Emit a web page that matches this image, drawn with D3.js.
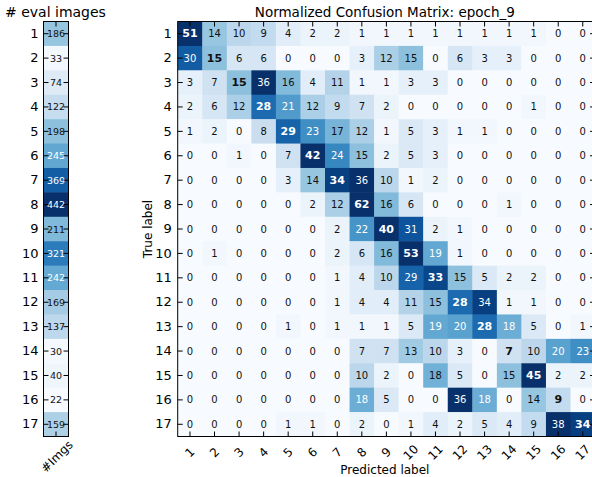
<!DOCTYPE html>
<html>
<head>
<meta charset="utf-8">
<script src="https://cdn.jsdelivr.net/npm/d3@7"></script>
<style>
  body { margin: 0; background: #fff; }
  svg { display: block; font-family: "DejaVu Sans", sans-serif; }
</style>
</head>
<body>
<svg id="chart" width="592" height="477"></svg>
<script>
// ---- data ----
const classLabels = ["1","2","3","4","5","6","7","8","9","10","11","12","13","14","15","16","17"];
const evalImageCounts = [186, 33, 74, 122, 198, 245, 369, 442, 211, 321, 242, 169, 137, 30, 40, 22, 159];
const countColumnLabel = ["#Imgs"];
// row-normalized confusion matrix, in percent (rows: true label, cols: predicted label)
const normalizedPct = [
  [51, 14, 10,  9,  4,  2,  2,  1,  1,  1,  1,  1,  1,  1,  1,  0,  0],
  [30, 15,  6,  6,  0,  0,  0,  3, 12, 15,  0,  6,  3,  3,  0,  0,  0],
  [ 3,  7, 15, 36, 16,  4, 11,  1,  1,  3,  3,  0,  0,  0,  0,  0,  0],
  [ 2,  6, 12, 28, 21, 12,  9,  7,  2,  0,  0,  0,  0,  0,  1,  0,  0],
  [ 1,  2,  0,  8, 29, 23, 17, 12,  1,  5,  3,  1,  1,  0,  0,  0,  0],
  [ 0,  0,  1,  0,  7, 42, 24, 15,  2,  5,  3,  0,  0,  0,  0,  0,  0],
  [ 0,  0,  0,  0,  3, 14, 34, 36, 10,  1,  2,  0,  0,  0,  0,  0,  0],
  [ 0,  0,  0,  0,  0,  2, 12, 62, 16,  6,  0,  0,  0,  1,  0,  0,  0],
  [ 0,  0,  0,  0,  0,  0,  2, 22, 40, 31,  2,  1,  0,  0,  0,  0,  0],
  [ 0,  1,  0,  0,  0,  0,  2,  6, 16, 53, 19,  1,  0,  0,  0,  0,  0],
  [ 0,  0,  0,  0,  0,  0,  1,  4, 10, 29, 33, 15,  5,  2,  2,  0,  0],
  [ 0,  0,  0,  0,  0,  0,  1,  4,  4, 11, 15, 28, 34,  1,  1,  0,  0],
  [ 0,  0,  0,  0,  1,  0,  1,  1,  1,  5, 19, 20, 28, 18.2, 5, 0,  1],
  [ 0,  0,  0,  0,  0,  0,  0,  7,  7, 13, 10,  3,  0,  7, 10, 20, 23],
  [ 0,  0,  0,  0,  0,  0,  0, 10,  2,  0, 17.5, 5, 0, 15, 45,  2,  2],
  [ 0,  0,  0,  0,  0,  0,  0, 18.2, 5, 0,  0, 36, 18.2, 0, 14, 9,  0],
  [ 0,  0,  0,  0,  1,  1,  0,  2,  0,  1,  4,  2,  5,  4,  9, 38, 34]
];
const titleLeft = "# eval images";
const titleMain = "Normalized Confusion Matrix: epoch_9";
const xAxisTitle = "Predicted label";
const yAxisTitle = "True label";

// ---- layout ----
const svg = d3.select("#chart");
const plotTop = 21.5, plotBottom = 436.5;
const mainLeft = 177.7, cell = 24.55;
const mainRight = mainLeft + cell * classLabels.length;
const leftX0 = 43.5, leftX1 = 68.5;
const tickLen = 5;

const y = d3.scaleBand().domain(classLabels).range([plotTop, plotBottom]).padding(0);
const x = d3.scaleBand().domain(classLabels).range([mainLeft, mainRight]).padding(0);
const xl = d3.scaleBand().domain(countColumnLabel).range([leftX0, leftX1]).padding(0);

const vmaxMain = 36;
const colorMain = d3.scaleSequential(d3.interpolateBlues).domain([0, vmaxMain]).clamp(true);
const threshMain = vmaxMain / 2;
const cMin = d3.min(evalImageCounts), cMax = d3.max(evalImageCounts);
const colorLeft = d3.scaleSequential(d3.interpolateBlues).domain([cMin, cMax]);
const threshLeft = cMax / 2;

// ---- left panel ----
const gL = svg.append("g");
gL.selectAll("rect").data(evalImageCounts).join("rect")
  .attr("x", xl("#Imgs")).attr("y", (d, i) => y(classLabels[i]))
  .attr("width", xl.bandwidth()).attr("height", y.bandwidth() + 0.5)
  .attr("fill", d => colorLeft(d));
gL.selectAll("text.val").data(evalImageCounts).join("text")
  .attr("class", "val")
  .attr("x", xl("#Imgs") + xl.bandwidth() / 2)
  .attr("y", (d, i) => y(classLabels[i]) + y.bandwidth() / 2)
  .attr("text-anchor", "middle").attr("dominant-baseline", "central")
  .attr("font-size", 9.5)
  .attr("fill", d => d > threshLeft ? "#fff" : "#111")
  .text(d => d);
gL.append("rect").attr("x", leftX0).attr("y", plotTop).attr("width", leftX1 - leftX0).attr("height", plotBottom - plotTop)
  .attr("fill", "none").attr("stroke", "#000").attr("stroke-width", 1);
const gyl = gL.append("g").attr("transform", `translate(${leftX0},0)`).call(d3.axisLeft(y).tickSize(-tickLen).tickPadding(5));
gyl.select(".domain").remove();
gyl.selectAll("text").attr("font-size", 13).attr("fill", "#000").attr("font-family", "DejaVu Sans");
const gyl2 = gL.append("g").attr("transform", `translate(${leftX1},0)`).call(d3.axisRight(y).tickSize(-tickLen).tickFormat(""));
gyl2.select(".domain").remove();
const gxl = gL.append("g").attr("transform", `translate(0,${plotBottom})`).call(d3.axisBottom(xl).tickSize(-tickLen).tickFormat(""));
gxl.select(".domain").remove();
const gxl2 = gL.append("g").attr("transform", `translate(0,${plotTop})`).call(d3.axisTop(xl).tickSize(-tickLen).tickFormat(""));
gxl2.select(".domain").remove();
gL.append("text")
  .attr("transform", `translate(${xl("#Imgs") + xl.bandwidth() / 2 + 1},${plotBottom + 20}) rotate(-45)`)
  .attr("text-anchor", "middle").attr("dominant-baseline", "central")
  .attr("font-size", 12).text(countColumnLabel[0]);
svg.append("text").attr("x", 5).attr("y", 17).attr("font-size", 14).text(titleLeft);

// ---- main matrix ----
const cells = [];
normalizedPct.forEach((row, i) => row.forEach((v, j) => cells.push({ r: classLabels[i], c: classLabels[j], v, diag: i === j })));
const gM = svg.append("g");
gM.selectAll("rect").data(cells).join("rect")
  .attr("x", d => x(d.c)).attr("y", d => y(d.r))
  .attr("width", x.bandwidth() + 0.5).attr("height", y.bandwidth() + 0.5)
  .attr("fill", d => colorMain(d.v));
gM.selectAll("text.val").data(cells).join("text")
  .attr("class", "val")
  .attr("x", d => x(d.c) + x.bandwidth() / 2)
  .attr("y", d => y(d.r) + y.bandwidth() / 2)
  .attr("text-anchor", "middle").attr("dominant-baseline", "central")
  .attr("font-size", d => d.diag ? 11 : 10)
  .attr("font-weight", d => d.diag ? "bold" : "normal")
  .attr("fill", d => d.v > threshMain ? "#fff" : "#111")
  .text(d => Math.round(d.v));

gM.append("rect").attr("x", mainLeft).attr("y", plotTop).attr("width", mainRight - mainLeft).attr("height", plotBottom - plotTop)
  .attr("fill", "none").attr("stroke", "#000").attr("stroke-width", 1);

const gy = gM.append("g").attr("transform", `translate(${mainLeft},0)`).call(d3.axisLeft(y).tickSize(-tickLen).tickPadding(6));
gy.select(".domain").remove();
gy.selectAll("text").attr("font-size", 13).attr("fill", "#000").attr("font-family", "DejaVu Sans");
const gy2 = gM.append("g").attr("transform", `translate(${mainRight},0)`).call(d3.axisRight(y).tickSize(-tickLen).tickFormat(""));
gy2.select(".domain").remove();
const gxTop = gM.append("g").attr("transform", `translate(0,${plotTop})`).call(d3.axisTop(x).tickSize(-tickLen).tickFormat(""));
gxTop.select(".domain").remove();
const gx = gM.append("g").attr("transform", `translate(0,${plotBottom})`).call(d3.axisBottom(x).tickSize(-tickLen).tickFormat(""));
gx.select(".domain").remove();
gM.selectAll("text.xt").data(classLabels).join("text")
  .attr("class", "xt")
  .attr("transform", d => `translate(${x(d) + x.bandwidth() / 2},${plotBottom + 16}) rotate(-45)`)
  .attr("text-anchor", "middle").attr("dominant-baseline", "central")
  .attr("font-size", 12).text(d => d);

svg.selectAll(".tick line").attr("stroke", "#000");

svg.append("text").attr("x", (mainLeft + 592) / 2).attr("y", 17).attr("text-anchor", "middle")
  .attr("font-size", 13.5).text(titleMain);
svg.append("text").attr("x", (mainLeft + 592) / 2).attr("y", 474).attr("text-anchor", "middle")
  .attr("font-size", 12).text(xAxisTitle);
svg.append("text").attr("transform", `translate(152,${(plotTop + plotBottom) / 2}) rotate(-90)`)
  .attr("text-anchor", "middle").attr("font-size", 12).text(yAxisTitle);
</script>
</body>
</html>
